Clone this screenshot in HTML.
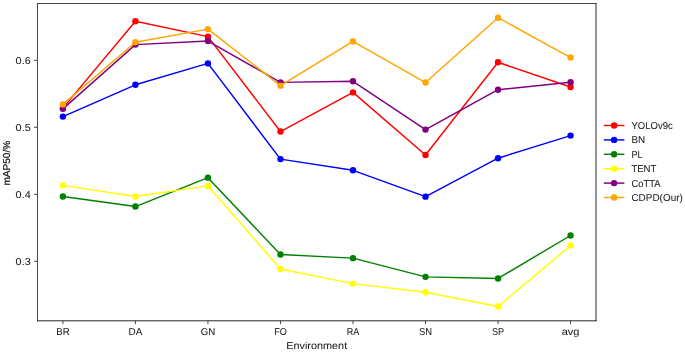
<!DOCTYPE html><html><head><meta charset="utf-8"><style>html,body{margin:0;padding:0;background:#fff;overflow:hidden}svg{display:block;will-change:transform}text{font-family:"Liberation Sans",sans-serif;fill:#1a1a1a;stroke:#1a1a1a;stroke-width:0.05px}</style></head><body>
<svg width="685" height="352" viewBox="0 0 685 352">
<rect width="685" height="352" fill="#fff"/>
<polyline points="62.90,108.15 135.42,21.25 207.95,36.65 280.47,131.55 353.00,92.42 425.52,154.97 498.04,62.31 570.57,86.95" fill="none" stroke="#ff0000" stroke-width="1.45" stroke-linejoin="round" stroke-linecap="butt"/>
<circle cx="62.90" cy="108.15" r="3.2" fill="#ff0000"/>
<circle cx="135.42" cy="21.25" r="3.2" fill="#ff0000"/>
<circle cx="207.95" cy="36.65" r="3.2" fill="#ff0000"/>
<circle cx="280.47" cy="131.55" r="3.2" fill="#ff0000"/>
<circle cx="353.00" cy="92.42" r="3.2" fill="#ff0000"/>
<circle cx="425.52" cy="154.97" r="3.2" fill="#ff0000"/>
<circle cx="498.04" cy="62.31" r="3.2" fill="#ff0000"/>
<circle cx="570.57" cy="86.95" r="3.2" fill="#ff0000"/>
<polyline points="62.90,116.61 135.42,84.81 207.95,63.41 280.47,159.11 353.00,170.31 425.52,196.65 498.04,158.19 570.57,135.61" fill="none" stroke="#0000ff" stroke-width="1.45" stroke-linejoin="round" stroke-linecap="butt"/>
<circle cx="62.90" cy="116.61" r="3.2" fill="#0000ff"/>
<circle cx="135.42" cy="84.81" r="3.2" fill="#0000ff"/>
<circle cx="207.95" cy="63.41" r="3.2" fill="#0000ff"/>
<circle cx="280.47" cy="159.11" r="3.2" fill="#0000ff"/>
<circle cx="353.00" cy="170.31" r="3.2" fill="#0000ff"/>
<circle cx="425.52" cy="196.65" r="3.2" fill="#0000ff"/>
<circle cx="498.04" cy="158.19" r="3.2" fill="#0000ff"/>
<circle cx="570.57" cy="135.61" r="3.2" fill="#0000ff"/>
<polyline points="62.90,196.55 135.42,206.55 207.95,177.65 280.47,254.55 353.00,258.15 425.52,276.85 498.04,278.45 570.57,235.50" fill="none" stroke="#008000" stroke-width="1.45" stroke-linejoin="round" stroke-linecap="butt"/>
<circle cx="62.90" cy="196.55" r="3.2" fill="#008000"/>
<circle cx="135.42" cy="206.55" r="3.2" fill="#008000"/>
<circle cx="207.95" cy="177.65" r="3.2" fill="#008000"/>
<circle cx="280.47" cy="254.55" r="3.2" fill="#008000"/>
<circle cx="353.00" cy="258.15" r="3.2" fill="#008000"/>
<circle cx="425.52" cy="276.85" r="3.2" fill="#008000"/>
<circle cx="498.04" cy="278.45" r="3.2" fill="#008000"/>
<circle cx="570.57" cy="235.50" r="3.2" fill="#008000"/>
<polyline points="62.90,185.35 135.42,196.45 207.95,185.90 280.47,269.01 353.00,283.61 425.52,292.30 498.04,306.51 570.57,245.50" fill="none" stroke="#ffff00" stroke-width="1.45" stroke-linejoin="round" stroke-linecap="butt"/>
<circle cx="62.90" cy="185.35" r="3.2" fill="#ffff00"/>
<circle cx="135.42" cy="196.45" r="3.2" fill="#ffff00"/>
<circle cx="207.95" cy="185.90" r="3.2" fill="#ffff00"/>
<circle cx="280.47" cy="269.01" r="3.2" fill="#ffff00"/>
<circle cx="353.00" cy="283.61" r="3.2" fill="#ffff00"/>
<circle cx="425.52" cy="292.30" r="3.2" fill="#ffff00"/>
<circle cx="498.04" cy="306.51" r="3.2" fill="#ffff00"/>
<circle cx="570.57" cy="245.50" r="3.2" fill="#ffff00"/>
<polyline points="62.90,108.85 135.42,44.60 207.95,41.05 280.47,82.35 353.00,81.31 425.52,129.61 498.04,89.71 570.57,82.25" fill="none" stroke="#800080" stroke-width="1.45" stroke-linejoin="round" stroke-linecap="butt"/>
<circle cx="62.90" cy="108.85" r="3.2" fill="#800080"/>
<circle cx="135.42" cy="44.60" r="3.2" fill="#800080"/>
<circle cx="207.95" cy="41.05" r="3.2" fill="#800080"/>
<circle cx="280.47" cy="82.35" r="3.2" fill="#800080"/>
<circle cx="353.00" cy="81.31" r="3.2" fill="#800080"/>
<circle cx="425.52" cy="129.61" r="3.2" fill="#800080"/>
<circle cx="498.04" cy="89.71" r="3.2" fill="#800080"/>
<circle cx="570.57" cy="82.25" r="3.2" fill="#800080"/>
<polyline points="62.90,104.41 135.42,42.20 207.95,29.11 280.47,85.65 353.00,41.42 425.52,82.55 498.04,17.71 570.57,57.57" fill="none" stroke="#ffa500" stroke-width="1.45" stroke-linejoin="round" stroke-linecap="butt"/>
<circle cx="62.90" cy="104.41" r="3.2" fill="#ffa500"/>
<circle cx="135.42" cy="42.20" r="3.2" fill="#ffa500"/>
<circle cx="207.95" cy="29.11" r="3.2" fill="#ffa500"/>
<circle cx="280.47" cy="85.65" r="3.2" fill="#ffa500"/>
<circle cx="353.00" cy="41.42" r="3.2" fill="#ffa500"/>
<circle cx="425.52" cy="82.55" r="3.2" fill="#ffa500"/>
<circle cx="498.04" cy="17.71" r="3.2" fill="#ffa500"/>
<circle cx="570.57" cy="57.57" r="3.2" fill="#ffa500"/>
<line x1="37.5" y1="3.05" x2="37.5" y2="321.25" stroke="#333" stroke-width="0.9"/>
<line x1="596.0" y1="3.05" x2="596.0" y2="321.25" stroke="#111" stroke-width="0.9"/>
<line x1="37.05" y1="3.5" x2="596.45" y2="3.5" stroke="#333" stroke-width="0.9"/>
<line x1="37.05" y1="320.8" x2="596.45" y2="320.8" stroke="#111" stroke-width="0.9"/>
<line x1="62.90" y1="320.6" x2="62.90" y2="324.1" stroke="#333" stroke-width="0.9"/>
<text transform="translate(62.90,334.8) skewX(0.1)" font-size="10" text-anchor="middle" textLength="13.46" lengthAdjust="spacingAndGlyphs">BR</text>
<line x1="135.42" y1="320.6" x2="135.42" y2="324.1" stroke="#333" stroke-width="0.9"/>
<text transform="translate(135.42,334.8) skewX(0.1)" font-size="10" text-anchor="middle" textLength="13.8" lengthAdjust="spacingAndGlyphs">DA</text>
<line x1="207.95" y1="320.6" x2="207.95" y2="324.1" stroke="#333" stroke-width="0.9"/>
<text transform="translate(207.95,334.8) skewX(0.1)" font-size="10" text-anchor="middle" textLength="14.51" lengthAdjust="spacingAndGlyphs">GN</text>
<line x1="280.47" y1="320.6" x2="280.47" y2="324.1" stroke="#333" stroke-width="0.9"/>
<text transform="translate(280.47,334.8) skewX(0.1)" font-size="10" text-anchor="middle" textLength="12.58" lengthAdjust="spacingAndGlyphs">FO</text>
<line x1="353.00" y1="320.6" x2="353.00" y2="324.1" stroke="#333" stroke-width="0.9"/>
<text transform="translate(353.00,334.8) skewX(0.1)" font-size="10" text-anchor="middle" textLength="12.55" lengthAdjust="spacingAndGlyphs">RA</text>
<line x1="425.52" y1="320.6" x2="425.52" y2="324.1" stroke="#333" stroke-width="0.9"/>
<text transform="translate(425.52,334.8) skewX(0.1)" font-size="10" text-anchor="middle" textLength="13.08" lengthAdjust="spacingAndGlyphs">SN</text>
<line x1="498.04" y1="320.6" x2="498.04" y2="324.1" stroke="#333" stroke-width="0.9"/>
<text transform="translate(498.04,334.8) skewX(0.1)" font-size="10" text-anchor="middle" textLength="12.14" lengthAdjust="spacingAndGlyphs">SP</text>
<line x1="570.57" y1="320.6" x2="570.57" y2="324.1" stroke="#333" stroke-width="0.9"/>
<text transform="translate(570.57,334.8) skewX(0.1)" font-size="10" text-anchor="middle" textLength="17.79" lengthAdjust="spacingAndGlyphs">avg</text>
<line x1="34.0" y1="60.3" x2="37.5" y2="60.3" stroke="#333" stroke-width="0.9"/>
<text transform="translate(30.7,63.699999999999996) skewX(0.1)" font-size="10" text-anchor="end" textLength="15.09" lengthAdjust="spacingAndGlyphs">0.6</text>
<line x1="34.0" y1="127.3" x2="37.5" y2="127.3" stroke="#333" stroke-width="0.9"/>
<text transform="translate(30.7,130.7) skewX(0.1)" font-size="10" text-anchor="end" textLength="15.09" lengthAdjust="spacingAndGlyphs">0.5</text>
<line x1="34.0" y1="194.3" x2="37.5" y2="194.3" stroke="#333" stroke-width="0.9"/>
<text transform="translate(30.7,197.70000000000002) skewX(0.1)" font-size="10" text-anchor="end" textLength="15.09" lengthAdjust="spacingAndGlyphs">0.4</text>
<line x1="34.0" y1="261.3" x2="37.5" y2="261.3" stroke="#333" stroke-width="0.9"/>
<text transform="translate(30.7,264.7) skewX(0.1)" font-size="10" text-anchor="end" textLength="15.09" lengthAdjust="spacingAndGlyphs">0.3</text>
<text transform="translate(316.7,348.6) skewX(0.1)" font-size="10" text-anchor="middle" textLength="60.94" lengthAdjust="spacingAndGlyphs">Environment</text>
<text transform="translate(10.3,163.2) rotate(-90) scale(1,1) skewX(0.1)" font-size="10" text-anchor="middle" style="stroke-width:0.25px" textLength="44.7" lengthAdjust="spacingAndGlyphs">mAP50/%</text>
<line x1="603.8" y1="125.50" x2="624.4" y2="125.50" stroke="#ff0000" stroke-width="1.45"/>
<circle cx="614.10" cy="125.50" r="3.2" fill="#ff0000"/>
<text transform="translate(631.4,128.90) skewX(0.1)" font-size="10" textLength="41.34" lengthAdjust="spacingAndGlyphs">YOLOv9c</text>
<line x1="603.8" y1="139.90" x2="624.4" y2="139.90" stroke="#0000ff" stroke-width="1.45"/>
<circle cx="614.10" cy="139.90" r="3.2" fill="#0000ff"/>
<text transform="translate(631.4,143.35) skewX(0.1)" font-size="10" textLength="13.8" lengthAdjust="spacingAndGlyphs">BN</text>
<line x1="603.8" y1="154.30" x2="624.4" y2="154.30" stroke="#008000" stroke-width="1.45"/>
<circle cx="614.10" cy="154.30" r="3.2" fill="#008000"/>
<text transform="translate(631.4,157.80) skewX(0.1)" font-size="10" textLength="11.2" lengthAdjust="spacingAndGlyphs">PL</text>
<line x1="603.8" y1="168.70" x2="624.4" y2="168.70" stroke="#ffff00" stroke-width="1.45"/>
<circle cx="614.10" cy="168.70" r="3.2" fill="#ffff00"/>
<text transform="translate(631.4,172.25) skewX(0.1)" font-size="10" textLength="24.94" lengthAdjust="spacingAndGlyphs">TENT</text>
<line x1="603.8" y1="183.10" x2="624.4" y2="183.10" stroke="#800080" stroke-width="1.45"/>
<circle cx="614.10" cy="183.10" r="3.2" fill="#800080"/>
<text transform="translate(631.4,186.70) skewX(0.1)" font-size="10" textLength="29.11" lengthAdjust="spacingAndGlyphs">CoTTA</text>
<line x1="603.8" y1="197.50" x2="624.4" y2="197.50" stroke="#ffa500" stroke-width="1.45"/>
<circle cx="614.10" cy="197.50" r="3.2" fill="#ffa500"/>
<text transform="translate(631.4,201.15) skewX(0.1)" font-size="10" textLength="51.47" lengthAdjust="spacingAndGlyphs">CDPD(Our)</text>
</svg></body></html>
